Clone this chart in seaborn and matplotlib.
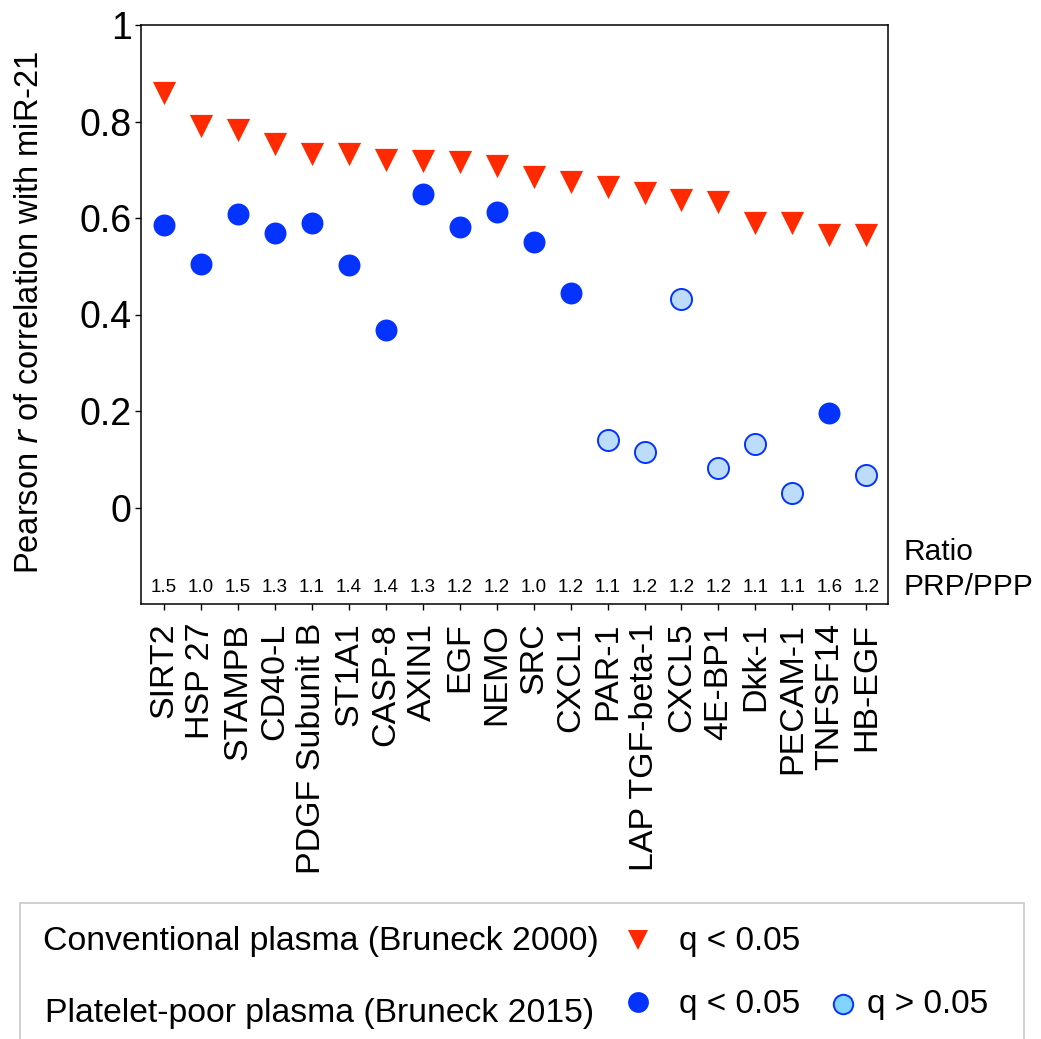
import numpy as np
import pandas as pd
import matplotlib
matplotlib.use("Agg")
import matplotlib.pyplot as plt
from matplotlib.lines import Line2D
from matplotlib.patches import Rectangle
import seaborn as sns

genes = ["SIRT2", "HSP 27", "STAMPB", "CD40-L", "PDGF Subunit B", "ST1A1", "CASP-8",
         "AXIN1", "EGF", "NEMO", "SRC", "CXCL1", "PAR-1", "LAP TGF-beta-1", "CXCL5",
         "4E-BP1", "Dkk-1", "PECAM-1", "TNFSF14", "HB-EGF"]
conv_r = [0.859, 0.791, 0.783, 0.754, 0.733, 0.733, 0.721, 0.719, 0.717, 0.708,
          0.686, 0.674, 0.664, 0.652, 0.638, 0.633, 0.590, 0.590, 0.564, 0.564]
ppp_r = [0.585, 0.505, 0.608, 0.568, 0.590, 0.502, 0.367, 0.649, 0.581, 0.612,
         0.551, 0.444, 0.139, 0.116, 0.433, 0.082, 0.131, 0.031, 0.195, 0.068]
ppp_sig = [True, True, True, True, True, True, True, True, True, True,
           True, True, False, False, False, False, False, False, True, False]
ratio = ["1.5", "1.0", "1.5", "1.3", "1.1", "1.4", "1.4", "1.3", "1.2", "1.2",
         "1.0", "1.2", "1.1", "1.2", "1.2", "1.2", "1.1", "1.1", "1.6", "1.2"]
yticks = [0, 0.2, 0.4, 0.6, 0.8, 1.0]
ytick_labels = ["0", "0.2", "0.4", "0.6", "0.8", "1"]

RED = "#ff2a00"
BLUE = "#0433ff"
LIGHT = "#bcdcfa"
LIGHT_LEG = "#80d4ff"

sns.set_style("ticks")
plt.rcParams["font.family"] = ["Liberation Sans", "DejaVu Sans"]
plt.rcParams["text.color"] = "black"
plt.rcParams["axes.labelcolor"] = "black"
plt.rcParams["xtick.color"] = "black"
plt.rcParams["ytick.color"] = "black"

pos = np.arange(len(genes))
df_conv = pd.DataFrame({"pos": pos, "r": conv_r})
df_ppp = pd.DataFrame({"pos": pos, "r": ppp_r, "sig": ppp_sig})

W, H = 1041, 1039
fig = plt.figure(figsize=(W / 100, H / 100), dpi=100)
L, R, T, B = 140.7, 888.5, 25.0, 604.0
ax = fig.add_axes([L / W, 1 - B / H, (R - L) / W, (B - T) / H])

sns.scatterplot(data=df_conv, x="pos", y="r", marker="v", color=RED, s=280,
                linewidth=0, ax=ax, zorder=3)
sns.scatterplot(data=df_ppp[df_ppp["sig"]], x="pos", y="r", marker="o", color=BLUE,
                s=250, linewidth=0, ax=ax, zorder=3)
sns.scatterplot(data=df_ppp[~df_ppp["sig"]], x="pos", y="r", marker="o", facecolor=LIGHT,
                edgecolor=BLUE, s=230, linewidth=1.4, ax=ax, zorder=3)

ax.set_xlim(-0.63, len(genes) - 1 + 0.6)
ax.set_ylim(-0.2, 1.0)
ax.set_xticks(pos)
ax.set_xticklabels(genes, rotation=90, fontsize=24.5)
ax.set_yticks(yticks)
ax.set_yticklabels(ytick_labels, fontsize=27)
ax.tick_params(axis="both", direction="out", length=4.5, width=1, color="black",
               labelcolor="black")
ax.tick_params(axis="x", pad=9)
ax.tick_params(axis="y", pad=2)
for sp in ax.spines.values():
    sp.set_visible(True)
    sp.set_color("black")
    sp.set_linewidth(1.1)
ax.set_xlabel("")
ax.set_ylabel("Pearson $\\it{r}$ of correlation with miR-21", fontsize=23.5)
ax.yaxis.set_label_coords(-0.128, 0.504)

for i, t in enumerate(ratio):
    ax.text(pos[i], -0.166, t, ha="center", va="center", fontsize=13.5)

fig.text(903 / W, 1 - 552 / H, "Ratio", ha="left", va="center", fontsize=21.5)
fig.text(903 / W, 1 - 587 / H, "PRP/PPP", ha="left", va="center", fontsize=21.5)

# legend box
fig.add_artist(Rectangle((20 / W, -0.05), (1024 - 20) / W, 1 - 903 / H + 0.05,
                         transform=fig.transFigure, facecolor="white",
                         edgecolor="#c8c8c8", linewidth=1.2))
fig.text(43 / W, 1 - 950 / H, "Conventional plasma (Bruneck 2000)", ha="left",
         va="baseline", fontsize=24.3)
fig.text(45 / W, 1 - 1022 / H, "Platelet-poor plasma (Bruneck 2015)", ha="left",
         va="baseline", fontsize=24.3)
fig.add_artist(Line2D([638 / W], [1 - 940 / H], marker="v", markersize=15, color=RED,
                      markeredgewidth=0, linestyle="none", transform=fig.transFigure))
fig.add_artist(Line2D([638 / W], [1 - 1002 / H], marker="o", markersize=15, color=BLUE,
                      markeredgewidth=0, linestyle="none", transform=fig.transFigure))
fig.add_artist(Line2D([843 / W], [1 - 1004 / H], marker="o", markersize=14,
                      markerfacecolor=LIGHT_LEG, markeredgecolor=BLUE,
                      markeredgewidth=1.4, linestyle="none", transform=fig.transFigure))
fig.text(679 / W, 1 - 950 / H, "q < 0.05", ha="left", va="baseline", fontsize=24)
fig.text(679 / W, 1 - 1013 / H, "q < 0.05", ha="left", va="baseline", fontsize=24)
fig.text(867 / W, 1 - 1013 / H, "q > 0.05", ha="left", va="baseline", fontsize=24)

fig.savefig("out.png", dpi=100)
